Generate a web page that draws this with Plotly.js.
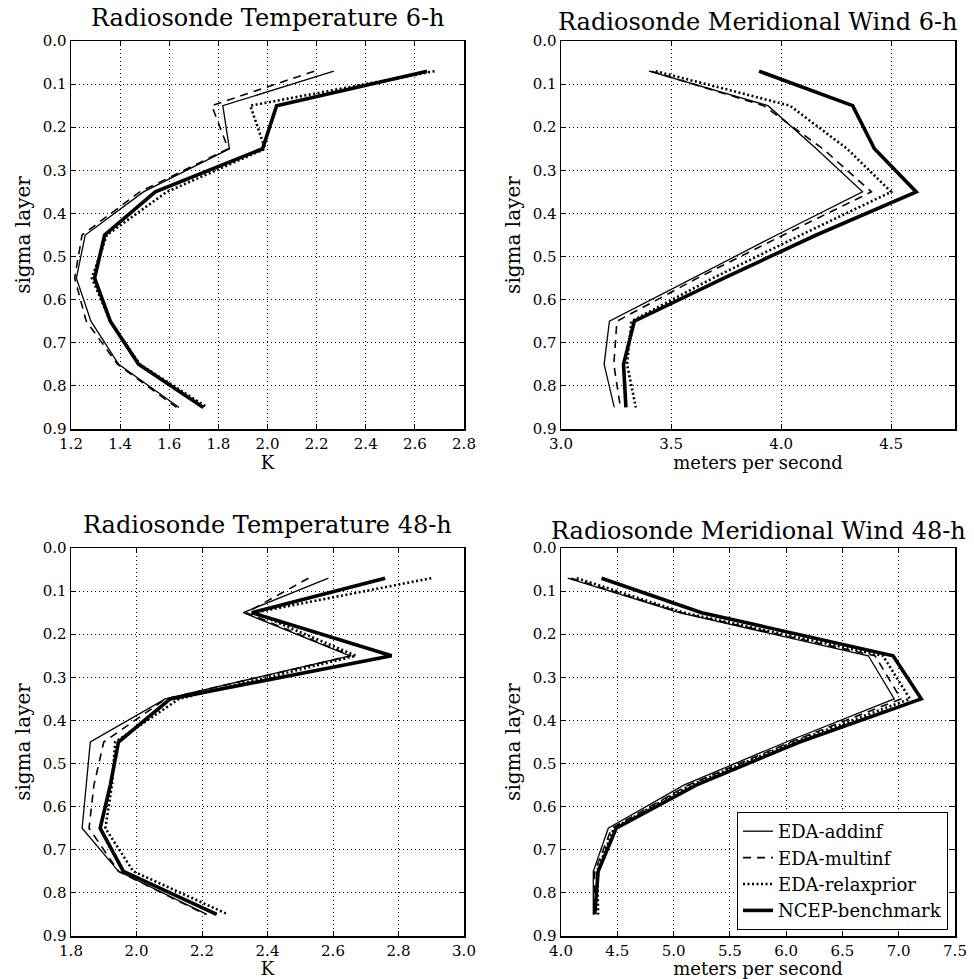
<!DOCTYPE html>
<html>
<head>
<meta charset="utf-8">
<script src="https://cdn.plot.ly/plotly-3.0.1.min.js"></script>
<style>html,body{margin:0;padding:0;background:#fff;}#chart{width:974px;height:979px;}</style>
</head>
<body>
<div id="chart"></div>
<script>
// sigma layers
const sigma = [0.07, 0.15, 0.25, 0.35, 0.45, 0.55, 0.65, 0.75, 0.85];
const seriesNames = ["EDA-addinf", "EDA-multinf", "EDA-relaxprior", "NCEP-benchmark"];

// Radiosonde Temperature 6-h (K)
const t6_addinf  = [2.27, 1.818, 1.845, 1.495, 1.258, 1.222, 1.281, 1.394, 1.64];
const t6_multinf = [2.19, 1.773, 1.84, 1.48, 1.245, 1.215, 1.262, 1.39, 1.63];
const t6_relax   = [2.68, 1.93, 1.99, 1.59, 1.346, 1.285, 1.36, 1.48, 1.755];
const t6_ncep    = [2.65, 2.037, 1.98, 1.543, 1.337, 1.296, 1.36, 1.475, 1.739];

// Radiosonde Meridional Wind 6-h (m/s)
const w6_addinf  = [3.40, 3.94, 4.16, 4.37, 3.98, 3.60, 3.22, 3.196, 3.242];
const w6_multinf = [3.41, 3.92, 4.19, 4.41, 4.01, 3.62, 3.254, 3.24, 3.27];
const w6_relax   = [3.43, 4.04, 4.30, 4.50, 4.09, 3.69, 3.32, 3.30, 3.34];
const w6_ncep    = [3.90, 4.325, 4.424, 4.614, 4.16, 3.74, 3.333, 3.284, 3.295];

// Radiosonde Temperature 48-h (K)
const t48_addinf  = [2.586, 2.326, 2.652, 2.088, 1.859, 1.846, 1.834, 1.945, 2.215];
const t48_multinf = [2.525, 2.335, 2.655, 2.09, 1.90, 1.87, 1.855, 1.945, 2.21];
const t48_relax   = [2.90, 2.36, 2.67, 2.13, 1.935, 1.925, 1.905, 1.99, 2.28];
const t48_ncep    = [2.759, 2.352, 2.779, 2.103, 1.945, 1.92, 1.889, 1.96, 2.245];

// Radiosonde Meridional Wind 48-h (m/s)
const w48_addinf  = [4.06, 5.05, 6.73, 6.96, 6.00, 5.09, 4.42, 4.287, 4.287];
const w48_multinf = [4.09, 5.07, 6.79, 7.02, 6.04, 5.13, 4.45, 4.30, 4.29];
const w48_relax   = [4.14, 5.09, 6.86, 7.10, 6.07, 5.15, 4.47, 4.32, 4.33];
const w48_ncep    = [4.36, 5.25, 6.95, 7.20, 6.12, 5.20, 4.49, 4.33, 4.30];

const panelTitles = ["Radiosonde Temperature 6-h", "Radiosonde Meridional Wind 6-h",
                     "Radiosonde Temperature 48-h", "Radiosonde Meridional Wind 48-h"];
const xTitles = ["K", "meters per second", "K", "meters per second"];
const yTitle = "sigma layer";

const panels = [
  [t6_addinf, t6_multinf, t6_relax, t6_ncep],
  [w6_addinf, w6_multinf, w6_relax, w6_ncep],
  [t48_addinf, t48_multinf, t48_relax, t48_ncep],
  [w48_addinf, w48_multinf, w48_relax, w48_ncep]
];

const styles = [
  {color: "#000", width: 1.3, dash: "solid"},
  {color: "#000", width: 1.6, dash: "8px,6px"},
  {color: "#000", width: 2.6, dash: "2px,2.5px"},
  {color: "#000", width: 3.6, dash: "solid"}
];

const traces = [];
panels.forEach((p, i) => {
  const ax = i === 0 ? "" : String(i + 1);
  p.forEach((vals, k) => {
    traces.push({
      type: "scatter", mode: "lines",
      x: vals, y: sigma,
      xaxis: "x" + ax, yaxis: "y" + ax,
      name: seriesNames[k],
      line: styles[k],
      showlegend: i === 3,
      hoverinfo: "skip"
    });
  });
});

const W = 974, H = 979;
const boxes = [
  {l: 71, r: 464, t: 41, b: 429},
  {l: 561, r: 955, t: 41, b: 429},
  {l: 71, r: 464, t: 548, b: 936},
  {l: 561, r: 955, t: 548, b: 936}
];
const titleGap = [7, 3, 7, 1];
const xRanges = [[1.2, 2.8], [3.0, 4.79], [1.8, 3.0], [4.0, 7.5]];
const xDticks = [0.2, 0.5, 0.2, 0.5];

const font = "DejaVu Serif, Liberation Serif, serif";
const layout = {
  width: W, height: H,
  margin: {l: 0, r: 0, t: 0, b: 0},
  paper_bgcolor: "#fff", plot_bgcolor: "#fff",
  font: {family: font, color: "#000", size: 15},
  showlegend: true,
  legend: {
    x: 948 / W, y: 1 - 930 / H, xanchor: "right", yanchor: "bottom",
    bgcolor: "#fff", bordercolor: "#000", borderwidth: 1,
    font: {family: font, size: 18, color: "#000"},
    tracegroupgap: 0
  },
  annotations: []
};

boxes.forEach((bx, i) => {
  const ax = i === 0 ? "" : String(i + 1);
  const common = {
    showline: true, linecolor: "#000", linewidth: 1.5, mirror: "allticks",
    ticks: "inside", ticklen: 5, tickwidth: 1, tickcolor: "#000",
    showgrid: true, gridcolor: "#000", gridwidth: 1, griddash: "1px,3px",
    zeroline: false,
    tickfont: {family: font, size: 15, color: "#000"}
  };
  layout["xaxis" + ax] = Object.assign({}, common, {
    domain: [bx.l / W, bx.r / W],
    anchor: "y" + ax,
    range: xRanges[i], autorange: false,
    tick0: xRanges[i][0], dtick: xDticks[i], tickformat: ".1f",
    title: {text: xTitles[i], font: {family: font, size: 18, color: "#000"}, standoff: 4}
  });
  layout["yaxis" + ax] = Object.assign({}, common, {
    domain: [1 - bx.b / H, 1 - bx.t / H],
    anchor: "x" + ax,
    range: [0.9, 0], autorange: false,
    tick0: 0, dtick: 0.1, tickformat: ".1f",
    title: {text: yTitle, font: {family: font, size: 20, color: "#000"}, standoff: 6}
  });
  layout.annotations.push({
    text: panelTitles[i], xref: "paper", yref: "paper",
    x: ((bx.l + bx.r) / 2) / W, y: 1 - (bx.t - titleGap[i]) / H,
    xanchor: "center", yanchor: "bottom", showarrow: false,
    font: {family: font, size: 24, color: "#000"}
  });
});

Plotly.newPlot("chart", traces, layout, {staticPlot: true, displayModeBar: false});
</script>
</body>
</html>
